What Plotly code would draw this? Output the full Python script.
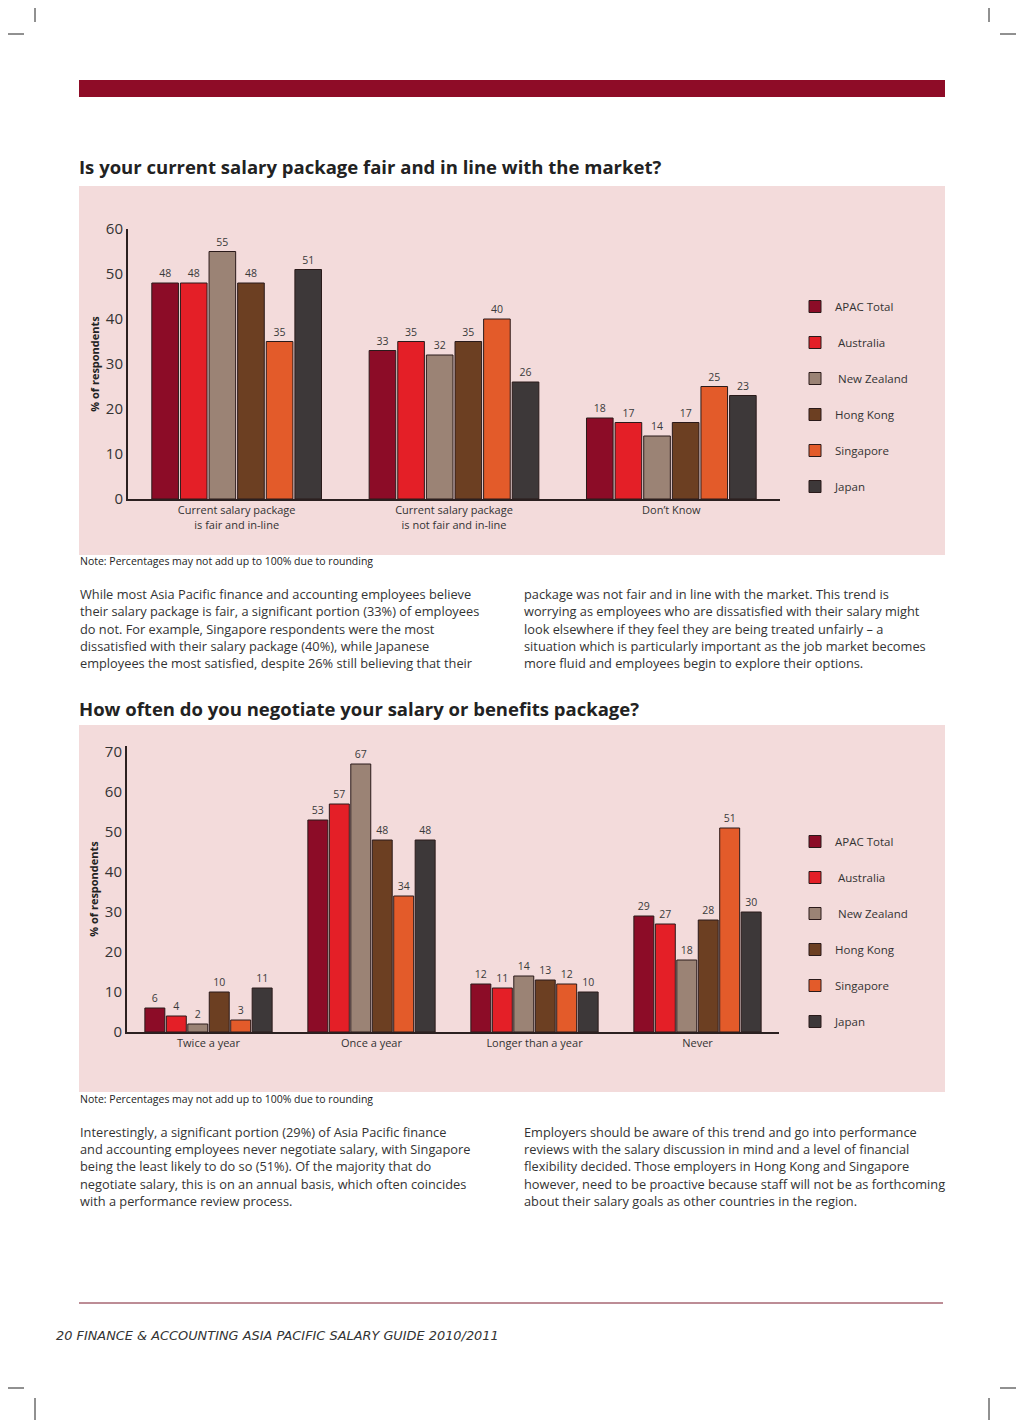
import plotly.graph_objects as go

# ---------------- data ----------------
series = ["APAC Total", "Australia", "New Zealand", "Hong Kong", "Singapore", "Japan"]
legend_labels = ["APAC Total", " Australia", " New Zealand", "Hong Kong", "Singapore", "Japan"]
colors = ["#8c0c27", "#e41f27", "#9b8375", "#6c3f22", "#e35b2a", "#3d3839"]

cats1 = ["Current salary package<br>is fair and in-line",
         "Current salary package<br>is not fair and in-line",
         "Don\u2019t Know"]
apac1 = [48, 33, 18]
aus1 = [48, 35, 17]
nz1 = [55, 32, 14]
hk1 = [48, 35, 17]
sg1 = [35, 40, 25]
jp1 = [51, 26, 23]
vals1 = [apac1, aus1, nz1, hk1, sg1, jp1]

cats2 = ["Twice a year", "Once a year", "Longer than a year", "Never"]
apac2 = [6, 53, 12, 29]
aus2 = [4, 57, 11, 27]
nz2 = [2, 67, 14, 18]
hk2 = [10, 48, 13, 28]
sg2 = [3, 34, 12, 51]
jp2 = [11, 48, 10, 30]
vals2 = [apac2, aus2, nz2, hk2, sg2, jp2]

yticks1 = [0, 10, 20, 30, 40, 50, 60]
yticks2 = [0, 10, 20, 30, 40, 50, 60, 70]

title1 = "Is your current salary package fair and in line with the market?"
title2 = "How often do you negotiate your salary or benefits package?"
note = "Note: Percentages may not add up to 100% due to rounding"
para1_left = [
    "While most Asia Pacific finance and accounting employees believe",
    "their salary package is fair, a significant portion (33%) of employees",
    "do not. For example, Singapore respondents were the most",
    "dissatisfied with their salary package (40%), while Japanese",
    "employees the most satisfied, despite 26% still believing that their",
]
para1_right = [
    "package was not fair and in line with the market. This trend is",
    "worrying as employees who are dissatisfied with their salary might",
    "look elsewhere if they feel they are being treated unfairly \u2013 a",
    "situation which is particularly important as the job market becomes",
    "more fluid and employees begin to explore their options.",
]
para2_left = [
    "Interestingly, a significant portion (29%) of Asia Pacific finance",
    "and accounting employees never negotiate salary, with Singapore",
    "being the least likely to do so (51%). Of the majority that do",
    "negotiate salary, this is on an annual basis, which often coincides",
    "with a performance review process.",
]
para2_right = [
    "Employers should be aware of this trend and go into performance",
    "reviews with the salary discussion in mind and a level of financial",
    "flexibility decided. Those employers in Hong Kong and Singapore",
    "however, need to be proactive because staff will not be as forthcoming",
    "about their salary goals as other countries in the region.",
]
footer = "20 FINANCE & ACCOUNTING ASIA PACIFIC SALARY GUIDE 2010/2011"

# ---------------- layout helpers ----------------
W, H = 1016, 1412          # figure size (page body margin of 8px around it)
OX, OY = 8, 8              # page offset of the figure in the screenshot
def px(x):
    return (x - OX) / W
def py(y):
    return 1 - (y - OY) / H

FONT = "Open Sans"
TXT = "#333333"

fig = go.Figure()

for i, s in enumerate(series):
    fig.add_trace(go.Bar(
        x=cats1, y=vals1[i], name=legend_labels[i],
        marker=dict(color=colors[i], line=dict(color="#2a1a1a", width=1)),
        text=[str(v) for v in vals1[i]], textposition="outside",
        textfont=dict(size=10.5, color="#3a3a3a", family=FONT),
        cliponaxis=False, xaxis="x", yaxis="y", legend="legend",
        legendgroup="a%d" % i, hoverinfo="skip",
    ))
for i, s in enumerate(series):
    fig.add_trace(go.Bar(
        x=cats2, y=vals2[i], name=legend_labels[i],
        marker=dict(color=colors[i], line=dict(color="#2a1a1a", width=1)),
        text=[str(v) for v in vals2[i]], textposition="outside",
        textfont=dict(size=10.5, color="#3a3a3a", family=FONT),
        cliponaxis=False, xaxis="x2", yaxis="y2", legend="legend2",
        legendgroup="b%d" % i, hoverinfo="skip",
    ))

axis_line = dict(showline=True, linecolor="#2b2020", linewidth=2, showgrid=False,
                 zeroline=False, ticks="", fixedrange=True, automargin=False)

legend_common = dict(xanchor="left", yanchor="top", bgcolor="rgba(0,0,0,0)",
                     font=dict(size=11.5, color=TXT, family=FONT),
                     tracegroupgap=17, itemclick=False, itemdoubleclick=False)

shapes = []
# pink panels
shapes.append(dict(type="rect", xref="paper", yref="paper", x0=px(79), x1=px(945),
                   y0=py(555), y1=py(186), fillcolor="#f3dbdb", line=dict(width=0), layer="below"))
shapes.append(dict(type="rect", xref="paper", yref="paper", x0=px(79), x1=px(945),
                   y0=py(1092), y1=py(725), fillcolor="#f3dbdb", line=dict(width=0), layer="below"))
# red header band
shapes.append(dict(type="rect", xref="paper", yref="paper", x0=px(79), x1=px(945),
                   y0=py(97), y1=py(80), fillcolor="#8e0c27", line=dict(width=0), layer="below"))
# footer rule
shapes.append(dict(type="line", xref="paper", yref="paper", x0=px(79), x1=px(943),
                   y0=py(1303), y1=py(1303), line=dict(color="#7a1a2c", width=1)))
# crop marks
for (x0, y0, x1, y1) in [(35, 0, 35, 22), (0, 34, 24, 34), (989, 0, 989, 22), (1000, 34, 1024, 34),
                         (0, 1388, 24, 1388), (35, 1398, 35, 1420), (1000, 1388, 1024, 1388),
                         (989, 1398, 989, 1420)]:
    shapes.append(dict(type="line", xref="paper", yref="paper", x0=px(x0), x1=px(x1),
                       y0=py(y0), y1=py(y1), line=dict(color="#222222", width=1)))

ann = []
def text(x, y, t, size=12.8, weight="normal", color=TXT, style="normal", family=FONT):
    ann.append(dict(x=px(x), y=py(y), xref="paper", yref="paper", text=t, showarrow=False,
                    xanchor="left", yanchor="middle",
                    font=dict(size=size, color=color, family=family, weight=weight, style=style)))

text(77, 167, title1, size=18.5, weight="bold", color="#222222")
text(77, 708, title2, size=18.5, weight="bold", color="#222222")
text(78, 561, note, size=10.5, color="#222222")
text(78, 1099, note, size=10.5, color="#222222")
for k, yy in enumerate([594, 611, 629, 646, 663]):
    text(78, yy, para1_left[k])
    text(522, yy, para1_right[k])
for k, yy in enumerate([1132, 1149, 1166, 1184, 1201]):
    text(78, yy, para2_left[k])
    text(522, yy, para2_right[k])
text(54, 1335, footer, size=12.9, style="italic", family="DejaVu Sans", color="#333333")

fig.update_layout(
    width=W, height=H, margin=dict(l=0, r=0, t=0, b=0, autoexpand=False),
    paper_bgcolor="white", plot_bgcolor="rgba(0,0,0,0)",
    barmode="group", bargap=0.21, bargroupgap=0.07,
    font=dict(family=FONT, color=TXT),
    xaxis=dict(domain=[px(128), px(780)], anchor="y", tickfont=dict(size=11, color=TXT),
               **axis_line),
    yaxis=dict(domain=[py(499), py(229)], anchor="x", range=[0, 60], tickvals=yticks1,
               tickfont=dict(size=15, color=TXT),
               title=dict(text="% of respondents", font=dict(size=11, weight="bold", color="#222222"),
                          standoff=4),
               **axis_line),
    xaxis2=dict(domain=[px(127), px(779)], anchor="y2", tickfont=dict(size=11, color=TXT),
                **axis_line),
    yaxis2=dict(domain=[py(1032), py(746)], anchor="x2", range=[0, 71.5], tickvals=yticks2,
                tickfont=dict(size=15, color=TXT),
                title=dict(text="% of respondents", font=dict(size=11, weight="bold", color="#222222"),
                           standoff=4),
                **axis_line),
    legend=dict(x=px(795), y=py(292), **legend_common),
    legend2=dict(x=px(795), y=py(827), **legend_common),
    shapes=shapes, annotations=ann, showlegend=True,
)

fig.write_html("out.html")
